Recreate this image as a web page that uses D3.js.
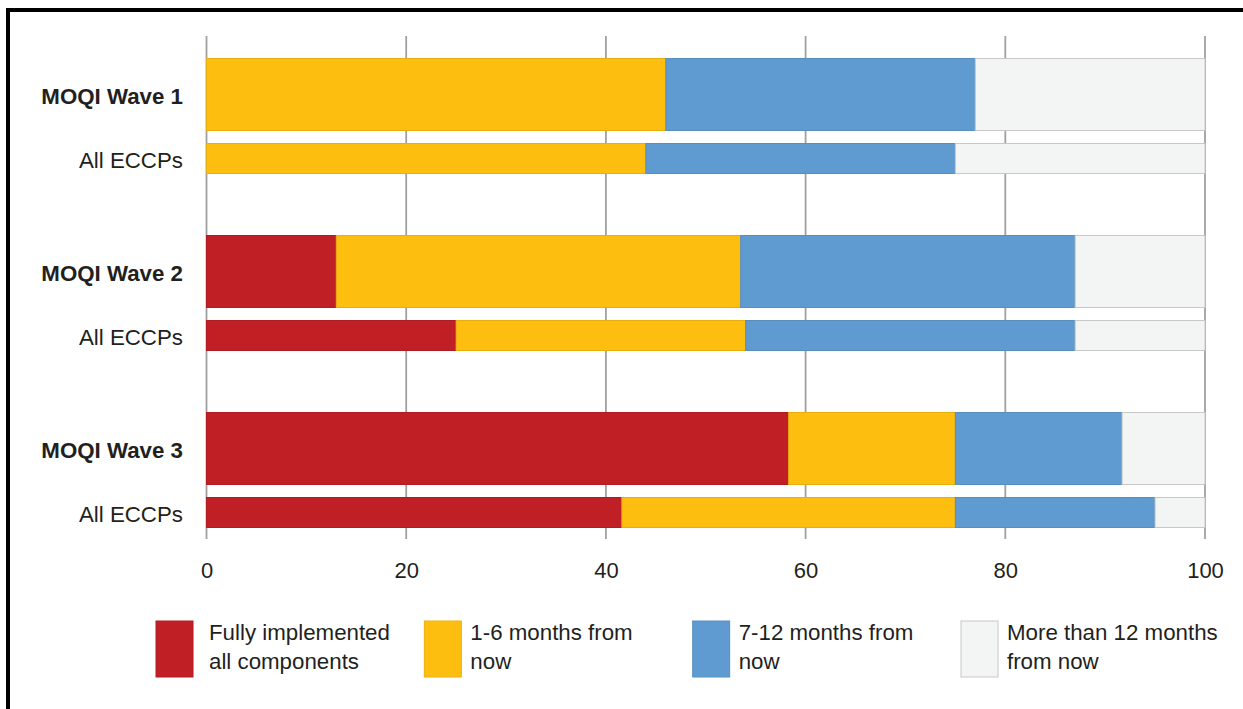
<!DOCTYPE html>
<html>
<head>
<meta charset="utf-8">
<script src="https://cdn.jsdelivr.net/npm/d3@7"></script>
<style>
  html, body { margin: 0; padding: 0; background: #fff; }
  svg { display: block; }
  text { font-family: "Liberation Sans", Arial, Helvetica, sans-serif; fill: #231f20; }
</style>
</head>
<body>
<svg id="chart" width="1243" height="709"></svg>
<script>
// ---- Data ----
const groups = ["MOQI Wave 1", "MOQI Wave 2", "MOQI Wave 3"];
const subLabel = "All ECCPs";
const seriesNames = ["Fully implemented all components", "1-6 months from now", "7-12 months from now", "More than 12 months from now"];
const legendLines = [["Fully implemented", "all components"], ["1-6 months from", "now"], ["7-12 months from", "now"], ["More than 12 months", "from now"]];
const colors = ["#c01f26", "#fdbe10", "#5f9bd0", "#f3f4f4"];
// values per series: [Wave1, Wave1 ECCPs, Wave2, Wave2 ECCPs, Wave3, Wave3 ECCPs]
const fullyImplemented = [0, 0, 13, 25, 58.3, 41.6];
const months1to6       = [46, 44, 40.5, 29, 16.7, 33.4];
const months7to12      = [31, 31, 33.5, 33, 16.7, 20];
const moreThan12       = [23, 25, 13, 13, 8.3, 5];
const xTicks = [0, 20, 40, 60, 80, 100];

// ---- Layout ----
const svg = d3.select("#chart");
const x = d3.scaleLinear().domain([0, 100]).range([206.5, 1205]);
const yGroup = d3.scaleBand().domain(groups).range([58.5, 58.5 + 3 * 177]).paddingInner(0).paddingOuter(0);
const bigH = 72, smallH = 30, smallOff = 85;
const gridTop = 36, gridBottom = 539;
const fs = 22.3;

// frame
svg.append("rect").attr("x", 6).attr("y", 8).attr("width", 1237).attr("height", 4).attr("fill", "#000");
svg.append("rect").attr("x", 6).attr("y", 8).attr("width", 4).attr("height", 701).attr("fill", "#000");

// gridlines
svg.append("g").selectAll("line").data(xTicks).join("line")
  .attr("x1", d => x(d)).attr("x2", d => x(d))
  .attr("y1", gridTop).attr("y2", gridBottom)
  .attr("stroke", "#a0a0a0").attr("stroke-width", 1.8);

// rows
const series = [fullyImplemented, months1to6, months7to12, moreThan12];
const rows = [];
groups.forEach((g, gi) => {
  rows.push({ label: g, bold: true, idx: gi * 2, y: yGroup(g), h: bigH });
  rows.push({ label: subLabel, bold: false, idx: gi * 2 + 1, y: yGroup(g) + smallOff, h: smallH });
});

const segs = [];
rows.forEach(r => {
  let acc = 0;
  series.forEach((s, si) => {
    const v = s[r.idx];
    if (v > 0) segs.push({ x0: acc, x1: acc + v, y: r.y, h: r.h, si });
    acc += v;
  });
});

svg.append("g").selectAll("rect").data(segs).join("rect")
  .attr("x", d => x(d.x0)).attr("width", d => x(d.x1) - x(d.x0))
  .attr("y", d => d.y).attr("height", d => d.h)
  .attr("fill", d => colors[d.si])
  .attr("stroke", d => d.si === 3 ? "#c8c8c8" : d3.color(colors[d.si]).darker(0.25))
  .attr("stroke-width", 1);

// category labels
svg.append("g").selectAll("text").data(rows).join("text")
  .attr("x", 183).attr("y", d => d.y + d.h / 2 + 1)
  .attr("dy", "0.36em")
  .attr("text-anchor", "end")
  .attr("font-size", fs)
  .attr("font-weight", d => d.bold ? "bold" : "normal")
  .text(d => d.label);

// x axis labels
const axis = d3.axisBottom(x).tickValues(xTicks).tickSize(0).tickPadding(0);
const ax = svg.append("g").attr("transform", "translate(0,562)").call(axis);
ax.select(".domain").remove();
ax.selectAll("text").attr("font-size", 22).attr("dy", "0.71em")
  .style("font-family", "'Liberation Sans', Arial, sans-serif").attr("fill", "#231f20");

// legend
const legX = d3.scalePoint().domain(d3.range(4)).range([156, 961]);
const leg = svg.append("g").selectAll("g").data(seriesNames).join("g")
  .attr("transform", (d, i) => `translate(${legX(i)},621)`);
leg.append("rect").attr("width", 37).attr("height", 56)
  .attr("fill", (d, i) => colors[i])
  .attr("stroke", (d, i) => i === 3 ? "#c8c8c8" : d3.color(colors[i]).darker(0.2))
  .attr("stroke-width", 1);
leg.each(function(d, i) {
  const tx = i === 0 ? 53 : 46;
  const t = d3.select(this).append("text").attr("x", tx).attr("font-size", fs);
  legendLines[i].forEach((ln, li) => {
    t.append("tspan").attr("x", tx).attr("y", 19 + li * 29).text(ln);
  });
});
</script>
</body>
</html>
